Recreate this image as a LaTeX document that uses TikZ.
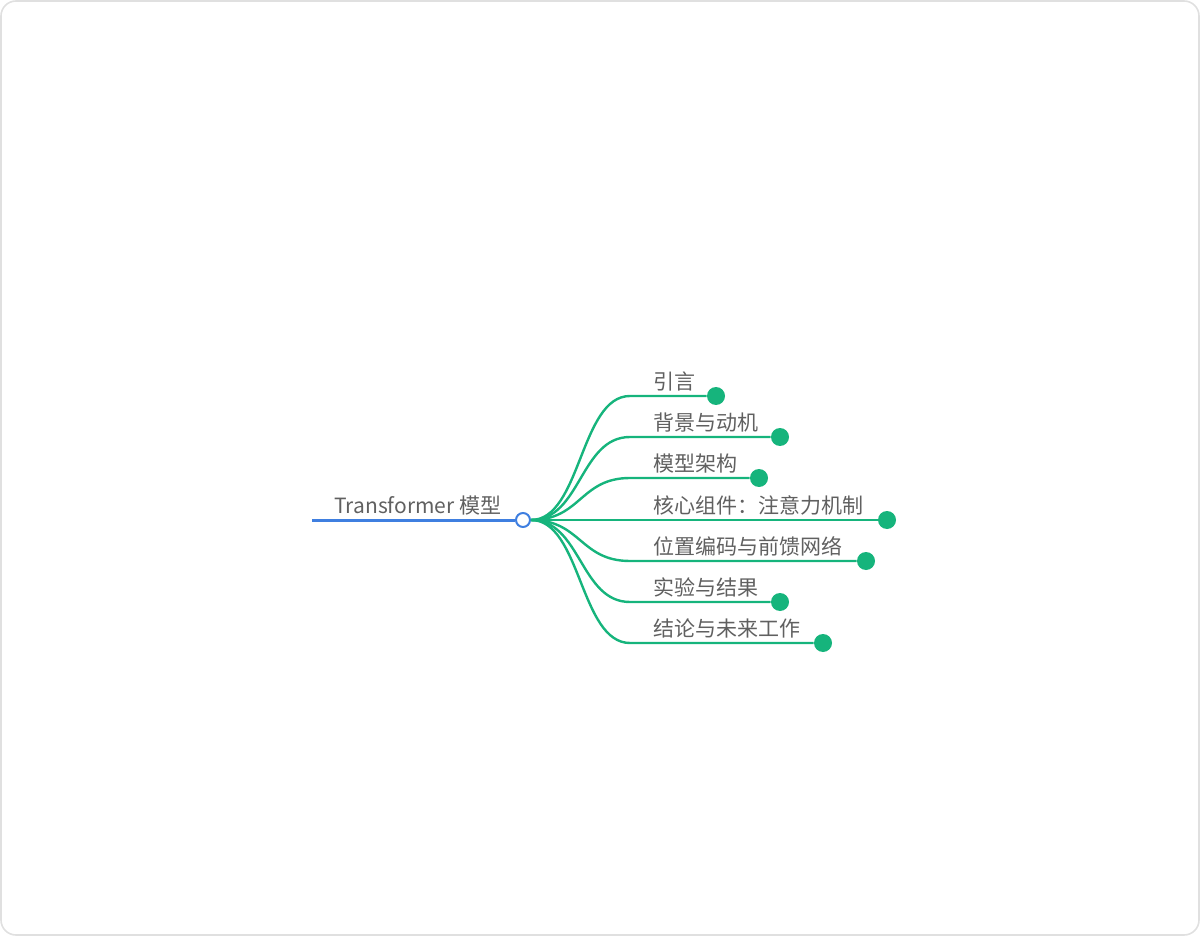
\documentclass[tikz,border=0pt]{standalone}
\usepackage{fontspec}
\setmainfont{Noto Sans CJK SC}
\definecolor{rootblue}{HTML}{3F7FE0}
\definecolor{leafgreen}{HTML}{16B47C}
\definecolor{textgray}{HTML}{606060}
\tikzset{
  label/.style={anchor=base west,inner sep=0pt,text=textgray,font=\fontsize{10.5}{12}\selectfont},
  hub/.style={circle,draw=rootblue,fill=white,line width=1pt,minimum size=7pt,inner sep=0pt},
  leafdot/.style={circle,fill=leafgreen,minimum size=9pt,inner sep=0pt},
  branch/.style={draw=leafgreen,line width=1.2pt}
}
\begin{document}
\begin{tikzpicture}[x=0.5pt,y=-0.5pt]
\useasboundingbox (0,0) rectangle (1200,936);
\draw [black!12,line width=0.8pt,rounded corners=7.5pt] (1,1) rectangle (1199,935);
\coordinate (start) at (312,520);
\node [hub] (hub) at (523,520) {};
\draw [rootblue,line width=1.5pt] (start) -- (hub);
\node [label] (root) at (334,513) {Transformer 模型};
\foreach \i/\y/\x/\t in {1/396/716/引言,2/437/780/背景与动机,3/478/759/模型架构,4/520/887/核心组件：注意力机制,5/561/866/位置编码与前馈网络,6/602/780/实验与结果,7/643/823/结论与未来工作}{
  \coordinate (k\i) at (630,\y);
  \node [leafdot] (d\i) at (\x,\y) {};
  \node [label] (l\i) at (653,\y-7) {\t};
  \draw [branch] (hub.east) .. controls +(50,0) and +(-50,0) .. (k\i) -- (d\i);
}
\end{tikzpicture}
\end{document}
